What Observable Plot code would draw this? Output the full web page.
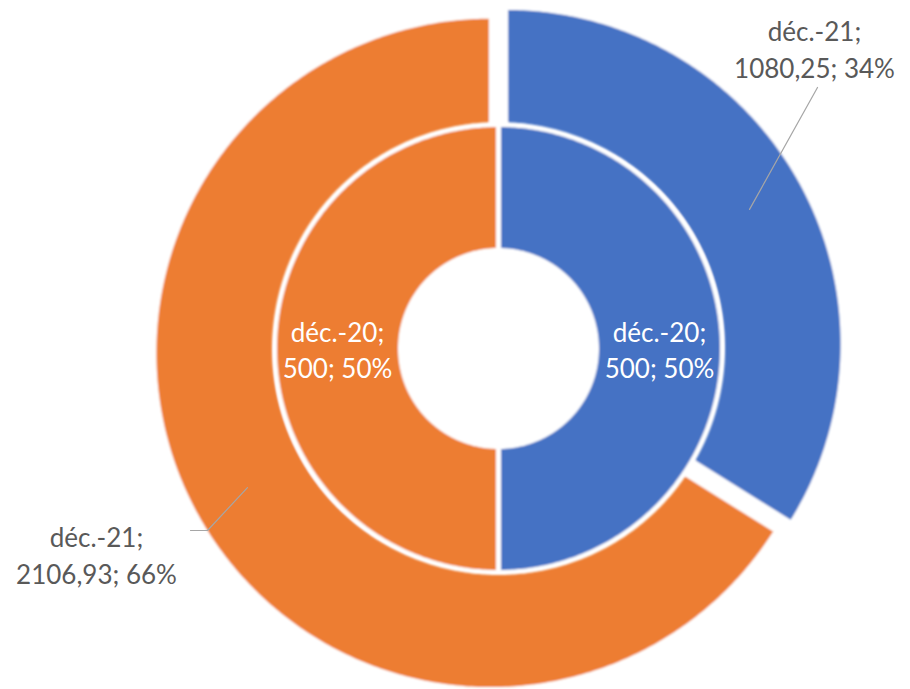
<!DOCTYPE html>
<html>
<head>
<meta charset="utf-8">
<script src="https://cdn.jsdelivr.net/npm/d3@7"></script>
<script src="https://cdn.jsdelivr.net/npm/@observablehq/plot@0.6"></script>
<style>
  html, body { margin: 0; padding: 0; background: #fff; }
  #chart { width: 910px; height: 689px; }
</style>
</head>
<body>
<div id="chart"></div>
<script>
// ---- data ----
const seriesNames = ["déc.-20", "déc.-21"];      // inner ring, outer ring
const categories = ["A", "B"];                   // blue, orange
const innerValues = [500, 500];
const outerValues = [1080.25, 2106.93];
const colors = ["#4472C4", "#ED7D31"];

// ---- layout constants ----
const W = 910, H = 689;
const CX = 498, CY = 348;             // pixel centre
const hole = 98, innerR = 224;        // inner ring
const outerR0 = 215, outerR1 = 336;   // outer ring
const explode = 9;
const labelColor = "#595959";

const fr = d3.formatLocale({decimal: ",", thousands: "", grouping: [3], currency: ["", ""]});
const fmtVal = v => Number.isInteger(v) ? String(v) : fr.format(".2f")(v);

function ringSlices(values, r0, r1, ring, off) {
  const pie = d3.pie().sort(null)(values);
  const total = d3.sum(values);
  return pie.map((p, i) => {
    const mid = (p.startAngle + p.endAngle) / 2;
    const ox = off * Math.sin(mid), oy = off * Math.cos(mid);
    const n = Math.max(8, Math.ceil((p.endAngle - p.startAngle) / 0.01));
    const pts = [];
    for (let k = 0; k <= n; k++) {
      const a = p.startAngle + (p.endAngle - p.startAngle) * k / n;
      pts.push({x: ox + r1 * Math.sin(a), y: oy + r1 * Math.cos(a)});
    }
    for (let k = n; k >= 0; k--) {
      const a = p.startAngle + (p.endAngle - p.startAngle) * k / n;
      pts.push({x: ox + r0 * Math.sin(a), y: oy + r0 * Math.cos(a)});
    }
    pts.push(pts[0]);
    const rm = ring === "in" ? (r0 + r1) / 2 : 278;
    return {
      id: ring + "-" + i, color: colors[i], pts,
      mid, cx: ox + rm * Math.sin(mid), cy: oy + rm * Math.cos(mid),
      label: seriesNames[ring === "in" ? 0 : 1] + ";\n" + fmtVal(values[i]) + "; " + Math.round(values[i] / total * 100) + "%"
    };
  });
}

const inner = ringSlices(innerValues, hole, innerR, "in", 0);
const outer = ringSlices(outerValues, outerR0, outerR1, "out", explode);
const toRows = arr => arr.flatMap(s => s.pts.map(p => ({...p, id: s.id, color: s.color})));
const outerRows = toRows(outer);
const innerRows = toRows(inner);

// outer label placement (pixel offsets from centre, y up)
const outerLabelPos = [{x: 316, y: 301}, {x: -402, y: -205}];
const outerLabels = outer.map((s, i) => ({...s, lx: outerLabelPos[i].x, ly: outerLabelPos[i].y}));
// leader lines: from slice centroid to label
const leaderElbow = [null, {x: -291, y: -182}];
const leaderEnd = [{x: 319, y: 261}, {x: -308, y: -182}];
const leaderRows = outer.flatMap((s, i) => {
  const r = [{x: s.cx, y: s.cy, id: i}];
  if (leaderElbow[i]) r.push({...leaderElbow[i], id: i});
  r.push({...leaderEnd[i], id: i});
  return r;
});

const plot = Plot.plot({
  width: W, height: H,
  margin: 0,
  x: {domain: [-CX, W - CX], axis: null},
  y: {domain: [-(H - CY), CY], axis: null},
  marks: [
    Plot.line(outerRows, {x: "x", y: "y", z: "id", fill: "color", stroke: "white", strokeWidth: 3.5, curve: "linear"}),
    Plot.line(innerRows, {x: "x", y: "y", z: "id", fill: "color", stroke: "white", strokeWidth: 5, curve: "linear"}),
    Plot.line(leaderRows, {x: "x", y: "y", z: "id", stroke: "#a6a6a6", strokeWidth: 1.2}),
    Plot.text(inner, {x: "cx", y: "cy", text: "label", fill: "white", fontSize: 26, lineHeight: 1.4,
      fontFamily: "Lato, 'Open Sans', sans-serif"}),
    Plot.text(outerLabels, {x: "lx", y: "ly", text: "label", fill: labelColor, fontSize: 26, lineHeight: 1.45,
      fontFamily: "Lato, 'Open Sans', sans-serif"})
  ]
});

// soft edges like the reference
const svg = d3.select(plot);
svg.insert("defs", ":first-child").append("filter").attr("id", "soft")
  .attr("x", "-10%").attr("y", "-10%").attr("width", "120%").attr("height", "120%")
  .append("feGaussianBlur").attr("stdDeviation", 1.2);
svg.selectAll("g[aria-label=line]").filter((d, i) => i < 2).attr("filter", "url(#soft)");

document.getElementById("chart").appendChild(plot);
</script>
</body>
</html>
